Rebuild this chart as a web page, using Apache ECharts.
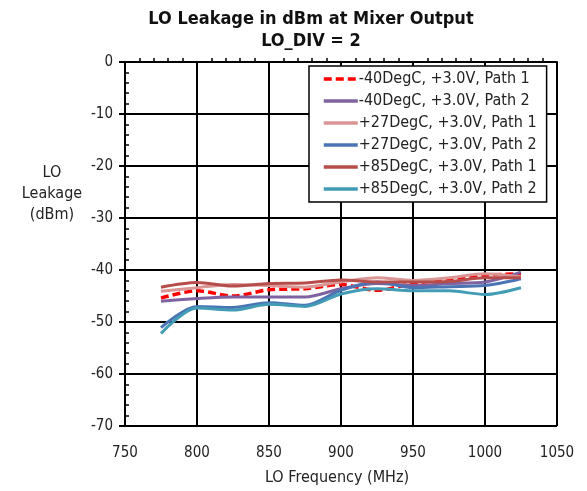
<!DOCTYPE html>
<html>
<head>
<meta charset="utf-8">
<script src="https://cdn.jsdelivr.net/npm/echarts@6/dist/echarts.min.js"></script>
<style>
  html, body { margin: 0; padding: 0; background: #fff; }
  #chart { width: 587px; height: 491px; }
</style>
</head>
<body>
<div id="chart"></div>
<script>
// LO frequency points (MHz)
const freqs = [775, 800, 825, 850, 875, 900, 925, 950, 975, 1000, 1025];

// LO leakage (dBm)
const m40Path1 = [-45.4, -44.0, -45.0, -43.8, -43.6, -42.8, -43.9, -42.6, -41.7, -41.0, -40.7];
const m40Path2 = [-46.0, -45.5, -45.2, -45.2, -45.2, -43.6, -42.6, -43.0, -42.6, -42.3, -40.4];
const p27Path1 = [-44.1, -43.4, -42.8, -43.0, -43.3, -42.3, -41.5, -42.0, -41.5, -40.7, -41.3];
const p27Path2 = [-51.1, -47.0, -47.2, -46.3, -46.8, -43.9, -42.3, -43.4, -43.2, -43.0, -41.7];
const p85Path1 = [-43.3, -42.4, -43.1, -42.6, -42.5, -41.9, -42.3, -42.3, -42.2, -41.5, -41.5];
const p85Path2 = [-52.2, -47.3, -47.7, -46.6, -47.0, -44.6, -43.6, -44.0, -44.0, -44.7, -43.4];

const yTicks = [0, -10, -20, -30, -40, -50, -60, -70];

const font = "'DejaVu Sans Condensed', 'Liberation Sans Narrow', Roboto, sans-serif";

function pairs(vals) {
  return freqs.map((f, i) => [f, vals[i]]);
}

function line(name, vals, color, dashed) {
  return {
    name: name,
    type: 'line',
    data: pairs(vals),
    smooth: 0.3,
    symbol: 'none',
    lineStyle: { color: color, width: dashed ? 3.5 : 3, type: dashed ? [8, 4] : 'solid' },
    itemStyle: { color: color }
  };
}

let chart = echarts.init(document.getElementById('chart'));

let option = {
  animation: false,
  backgroundColor: '#fff',
  textStyle: { fontFamily: font },
  title: [
    {
      text: 'LO Leakage in dBm at Mixer Output',
      left: 306, top: 5, textAlign: 'center',
      textStyle: { fontFamily: font, fontSize: 18, fontWeight: 'bold', color: '#111' }
    },
    {
      text: 'LO_DIV = 2',
      left: 306, top: 27, textAlign: 'center',
      textStyle: { fontFamily: font, fontSize: 18, fontWeight: 'bold', color: '#111' }
    }
  ],
  graphic: [
    {
      type: 'text', x: 52, y: 162,
      style: {
        text: 'LO\nLeakage\n(dBm)', textAlign: 'center', lineHeight: 21,
        font: '16px ' + font, fill: '#222'
      }
    }
  ],
  legend: {
    orient: 'vertical',
    left: 309, top: 66,
    width: 245,
    padding: [5, 10, 5, 13],
    itemWidth: 34, itemHeight: 14, itemGap: 6,
    backgroundColor: '#fff',
    borderColor: '#000', borderWidth: 1.5,
    itemStyle: { opacity: 0 },
    lineStyle: { width: 3.5 },
    textStyle: { fontFamily: font, fontSize: 16, color: '#222', padding: [0, 0, 0, -4] }
  },
  grid: { left: 125, right: 30, top: 62, bottom: 63 },
  xAxis: {
    type: 'value', min: 750, max: 1050, interval: 50,
    name: 'LO Frequency (MHz)', nameLocation: 'middle', nameGap: 44,
    nameTextStyle: { fontFamily: font, fontSize: 16, color: '#222', padding: [0, 8, 0, 0] },
    axisLine: { lineStyle: { color: '#000', width: 2 } },
    axisTick: { show: true, length: 6, lineStyle: { color: '#000', width: 2 } },
    minorTick: { show: true, splitNumber: 5, length: -4, lineStyle: { color: '#000', width: 1.5 } },
    axisLabel: { fontFamily: font, fontSize: 15, color: '#222', margin: 20, formatter: v => String(v) },
    splitLine: { show: true, lineStyle: { color: '#000', width: 2 } }
  },
  yAxis: {
    type: 'value', min: -70, max: 0, interval: 10,
    axisLine: { show: true, lineStyle: { color: '#000', width: 2 } },
    axisTick: { show: true, length: 6, lineStyle: { color: '#000', width: 2 } },
    minorTick: { show: true, splitNumber: 5, length: -4, lineStyle: { color: '#000', width: 1.5 } },
    axisLabel: {
      fontFamily: font, fontSize: 15, color: '#222', margin: 12,
      formatter: v => yTicks.includes(v) ? String(v) : ''
    },
    splitLine: { show: true, lineStyle: { color: '#000', width: 2 } }
  },
  series: [
    line('-40DegC, +3.0V, Path 1', m40Path1, '#ff0000', true),
    line('-40DegC, +3.0V, Path 2', m40Path2, '#7f63a1', false),
    line('+27DegC, +3.0V, Path 1', p27Path1, '#d99694', false),
    line('+27DegC, +3.0V, Path 2', p27Path2, '#4a74b4', false),
    line('+85DegC, +3.0V, Path 1', p85Path1, '#b64d4b', false),
    line('+85DegC, +3.0V, Path 2', p85Path2, '#439cb6', false)
  ]
};

chart.setOption(option);
</script>
</body>
</html>
